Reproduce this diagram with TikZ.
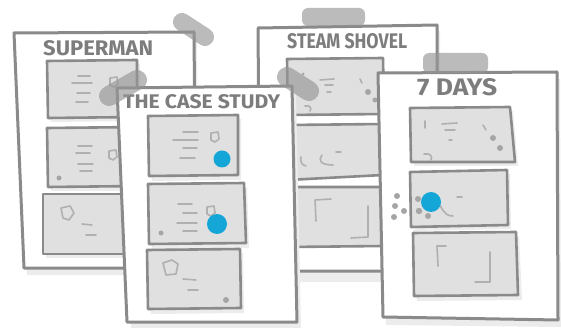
\documentclass[tikz,border=0pt]{standalone}
\usepackage{graphicx}
\usepackage{fontspec}
\setmainfont{Fira Sans}
\definecolor{edge}{RGB}{138,138,138}
\definecolor{cardfill}{RGB}{224,224,224}
\definecolor{sketch}{RGB}{176,176,176}
\definecolor{dotgray}{RGB}{165,165,165}
\definecolor{shadowc}{RGB}{236,236,236}
\definecolor{tapec}{RGB}{150,150,150}
\definecolor{dotblue}{RGB}{20,166,214}
\definecolor{titlec}{RGB}{125,125,125}
\tikzset{
 board/.style={draw=edge, fill=white, line width=3pt, line join=round},
 card/.style={draw=edge, fill=cardfill, line width=2.6pt, line join=round},
 shadowfill/.style={fill=shadowc, draw=none},
 sk/.style={draw=sketch, line width=1.6pt, line cap=round, line join=round},
 skdot/.style={fill=dotgray, draw=none},
 bluedot/.style={fill=dotblue, draw=none},
 tapebox/.style={draw=none, fill=tapec, opacity=0.65, rounded corners=6pt},
 tapeband/.style={draw=tapec, line cap=round, opacity=0.65},
 ttl/.style={inner sep=0pt, anchor=north west, text=titlec},
 pent/.pic={\draw[sk] (0,0) -- (7,-1) -- (8,6) -- (4,9) -- (0,7) -- cycle;},
}
\newcommand{\ttlbox}[3]{\resizebox{#1pt}{#2pt}{\bfseries #3}}
\begin{document}
\begin{tikzpicture}[x=1pt,y=-1pt]
\useasboundingbox (0,0) rectangle (561,328);

% ---------------- SUPERMAN board ----------------
\path[shadowfill] (17,40) -- (197,38) -- (199,275) -- (27,275) -- cycle;
\draw[board] (14,33) -- (194,32) -- (196,268) -- (24,268) -- cycle;
\node[ttl] (tsup) at (43,40) {\ttlbox{110}{15}{SUPERMAN}};
% card 1
\path[shadowfill] (50,65) -- (140,64) -- (140,121) -- (51,122) -- cycle;
\draw[card] (47,61) -- (137,60) -- (137,117) -- (48,118) -- cycle;
\draw[sk] (78,76) -- (90,76) (72,83) -- (92,83) (77,93) -- (90,93) (76,102) -- (88,102);
\pic at (110,78) {pent};
% card 2
\path[shadowfill] (50,132) -- (143,131) -- (143,191) -- (51,191) -- cycle;
\draw[card] (47,128) -- (140,127) -- (140,186) -- (48,187) -- cycle;
\draw[sk] (78,146) -- (92,146) (76,153) -- (90,153) (78,164) -- (93,164) (80,171) -- (92,171);
\pic at (109,151) {pent};
\fill[skdot] (59,178) circle (2.5);
% card 3
\path[shadowfill] (46,198) -- (138,198) -- (138,258) -- (46,258) -- cycle;
\draw[card] (43,194) -- (135,194) -- (135,254) -- (43,254) -- cycle;
\draw[sk] (61,208) -- (70,206) -- (74,213) -- (69,220) -- (63,218) -- cycle;
\draw[sk] (82,224) -- (92,225) (86,235) -- (96,235);

% ---------------- STEAM SHOVEL board ----------------
\path[shadowfill] (261,34) -- (440,31) -- (441,282) -- (263,282) -- cycle;
\draw[board] (258,28) -- (437,25) -- (438,271) -- (260,271) -- cycle;
\node[ttl] (tss) at (287,33) {\ttlbox{120}{15}{STEAM SHOVEL}};
% card 1
\draw[card] (287,59) -- (383,58) -- (384,114) -- (288,115) -- cycle;
\draw[sk] (320,80) -- (334,79) (325,85) -- (333,85) (327,92) -- (331,92) (360,79) -- (362,83);
\draw[sk] (305,106) .. controls (310,105) and (312,108) .. (310,111);
\fill[skdot] (368,92) circle (3) (375,100) circle (2.5) (303,74) circle (1.5);
% card 2
\draw[card] (288,125) -- (384,124) -- (383,175) -- (288,180) -- cycle;
\draw[sk] (322,155) .. controls (318,160) and (320,165) .. (333,165) (336,152) -- (341,152);
\draw[sk] (301,157) .. controls (300,162) and (302,165) .. (306,166);
% card 3
\draw[card] (288,187) -- (383,187) -- (383,246) -- (288,247) -- cycle;
\draw[sk] (316,221) -- (315,200) -- (331,199) (368,206) -- (368,237) -- (351,238);

% ---------------- THE CASE STUDY board ----------------
\path[shadowfill] (121,94) -- (296,92) -- (301,328) -- (131,328) -- cycle;
\draw[board] (117,88) -- (292,86) -- (297,322) -- (127,322) -- cycle;
\node[ttl] (tcase) at (123,94) {\ttlbox{157}{14}{THE CASE STUDY}};
% card 1
\path[shadowfill] (151,120) -- (241,119) -- (241,180) -- (152,181) -- cycle;
\draw[card] (148,116) -- (238,115) -- (238,175) -- (149,176) -- cycle;
\draw[sk] (183,132) -- (198,132) (173,140) -- (198,140) (183,148) -- (197,148) (180,158) -- (195,158);
\pic at (211,133) {pent};
\fill[bluedot] (222,159) circle (8.5);
% card 2
\path[shadowfill] (151,188) -- (247,187) -- (249,248) -- (152,249) -- cycle;
\draw[card] (148,184) -- (244,183) -- (246,243) -- (149,244) -- cycle;
\draw[sk] (178,204) -- (192,204) (183,213) -- (197,213) (177,223) -- (197,223) (183,231) -- (197,231);
\pic at (207,207) {pent};
\fill[bluedot] (217,224) circle (10);
\fill[skdot] (161,233) circle (2.5);
% card 3
\path[shadowfill] (150,254) -- (243,253) -- (244,313) -- (151,314) -- cycle;
\draw[card] (147,250) -- (240,249) -- (241,308) -- (148,309) -- cycle;
\draw[sk] (163,263) -- (172,260) -- (178,264) -- (176,274) -- (166,275) -- cycle;
\draw[sk] (183,279) -- (196,280) (188,290) -- (198,290);
\fill[skdot] (226,300) circle (3);

% ---------------- 7 DAYS board ----------------
\path[shadowfill] (381,80) -- (560,79) -- (561,327) -- (386,325) -- cycle;
\draw[board] (378,73) -- (557,72) -- (558,320) -- (383,317) -- cycle;
\node[ttl] (tdays) at (417,78) {\ttlbox{80}{17}{7 DAYS}};
% card 1
\path[shadowfill] (413,112) -- (513,111) -- (518,166) -- (414,166) -- cycle;
\draw[card] (410,108) -- (510,107) -- (515,162) -- (411,162) -- cycle;
\draw[sk] (425,121) -- (425,128) (442,124) -- (457,123) (445,130) -- (455,130) (449,140) -- (452,140) (483,125) -- (486,130);
\draw[sk] (424,154) .. controls (430,153) and (433,156) .. (431,160);
\fill[skdot] (493,138) circle (3) (500,148) circle (3);
% card 2
\path[shadowfill] (413,176) -- (510,174) -- (511,229) -- (414,231) -- cycle;
\draw[card] (410,172) -- (507,170) -- (508,225) -- (411,227) -- cycle;
\draw[sk] (437,203) .. controls (443,206) and (442,216) .. (453,216) (457,197) -- (462,197);
\fill[skdot] (418,199) circle (3) (419,211) circle (3.2) (428,216) circle (3);
\fill[bluedot] (431,202) circle (10);
\fill[skdot] (397,196) circle (3) (395,206) circle (3) (404,211) circle (3) (394,217) circle (3);
% card 3
\path[shadowfill] (416,237) -- (519,236) -- (522,300) -- (417,301) -- cycle;
\draw[card] (413,233) -- (516,232) -- (518,295) -- (414,296) -- cycle;
\draw[sk] (438,266) -- (437,246) -- (446,246) (490,252) -- (490,282) -- (475,282);

% ---------------- tapes ----------------
\draw[tapeband, line width=18pt] (182,22) -- (205,37);
\draw[tapeband, line width=20pt] (109,96) -- (137,80);
\fill[tapebox] (302,8) rectangle (365,26);
\draw[tapeband, line width=20pt] (287,77) -- (309,91);
\fill[tapebox] (423,53) rectangle (488,73);
\end{tikzpicture}
\end{document}
